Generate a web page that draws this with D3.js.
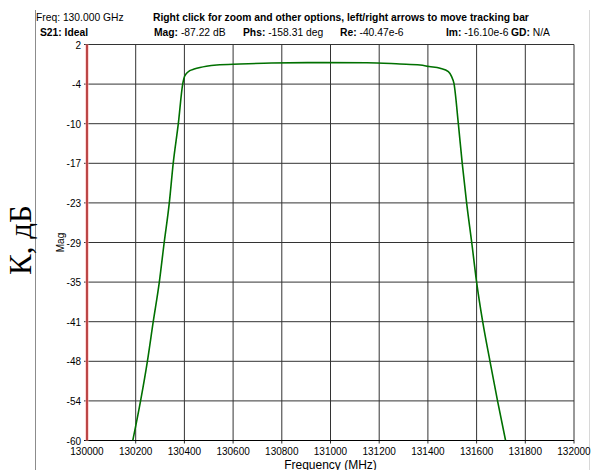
<!DOCTYPE html>
<meta charset="utf-8">
<style>
body { margin: 0; background: #fff; }
text { font-family: "Liberation Sans", Arial, sans-serif; fill: #000; }
.grid line { stroke: #333; stroke-width: 1px; }
.tick text { font-size: 10px; }
</style>
<svg width="591" height="470"></svg>
<script src="https://d3js.org/d3.v7.min.js"></script>
<script>

// frequency (MHz) and S21 magnitude (dB)
var freq = [130188, 130220, 130248, 130272, 130297, 130317, 130338, 130354, 130375, 130393,
            130398, 130407, 130422, 130440, 130464, 130490, 130533, 130628, 130758, 130957,
            131149, 131285, 131368, 131405, 131450, 131484, 131497, 131507, 131525, 131541,
            131559, 131580, 131600, 131625, 131655, 131686, 131719];
var mag  = [-60, -53.8, -47.6, -41.4, -35.2, -29, -22.8, -16.6, -10.4, -4.2,
            -3.3, -2.6, -2.1, -1.85, -1.6, -1.4, -1.2, -1.05, -0.9, -0.83,
            -0.85, -1.05, -1.2, -1.45, -1.73, -2.26, -3.0, -4.1, -10.4, -16.6,
            -22.8, -29, -35.2, -41.4, -47.6, -53.8, -60];

var xTicks = d3.range(130000, 132001, 200);
var yTicks = d3.range(0, 11).map(function(i) { return 2 - i * 6.2; });

var svg = d3.select("svg");
var pLeft = 87, pRight = 574, pTop = 44.5, pBottom = 440.5;

var x = d3.scaleLinear().domain([130000, 132000]).range([pLeft, pRight]);
var y = d3.scaleLinear().domain([-60, 2]).range([pBottom, pTop]);

// outer frame lines
svg.append("line").attr("x1", 35.5).attr("x2", 35.5).attr("y1", 10).attr("y2", 470)
    .attr("stroke", "#8c8c8c");
svg.append("line").attr("x1", 589.5).attr("x2", 589.5).attr("y1", 10).attr("y2", 470)
    .attr("stroke", "#d8d8d8");

// header
svg.append("text").attr("x", 36).attr("y", 21).style("font-size", "10.3px")
    .text("Freq: 130.000 GHz");
svg.append("text").attr("x", 153).attr("y", 21).style("font-size", "10.3px").style("font-weight", "bold")
    .text("Right click for zoom and other options, left/right arrows to move tracking bar");
svg.append("text").attr("x", 40).attr("y", 36).style("font-size", "10.3px").style("font-weight", "bold")
    .text("S21: Ideal");

var readout = [
  {k: "Mag:", v: " -87.22 dB", x: 154},
  {k: "Phs:", v: " -158.31 deg", x: 243},
  {k: "Re:", v: " -40.47e-6", x: 340},
  {k: "Im:", v: " -16.10e-6", x: 446},
  {k: "GD:", v: " N/A", x: 511}
];
readout.forEach(function(r) {
  var t = svg.append("text").attr("x", r.x).attr("y", 36).style("font-size", "10.3px");
  t.append("tspan").style("font-weight", "bold").text(r.k);
  t.append("tspan").text(r.v);
});

// grid
var grid = svg.append("g").attr("class", "grid");
grid.selectAll(".gx").data(xTicks.slice(1)).enter().append("line")
    .attr("x1", function(d) { return x(d); }).attr("x2", function(d) { return x(d); })
    .attr("y1", pTop).attr("y2", pBottom + 3);
grid.selectAll(".gy").data(yTicks.slice(0, -1)).enter().append("line")
    .attr("x1", pLeft - 3).attr("x2", pRight)
    .attr("y1", function(d) { return y(d); }).attr("y2", function(d) { return y(d); });
// bottom axis line
svg.append("line").attr("x1", pLeft - 3).attr("x2", pRight).attr("y1", pBottom).attr("y2", pBottom)
    .attr("stroke", "#000");

// tick labels
svg.append("g").attr("class", "tick").selectAll("text").data(xTicks).enter().append("text")
    .attr("x", function(d) { return x(d); }).attr("y", 455)
    .attr("text-anchor", "middle")
    .text(function(d) { return d; });
svg.append("g").attr("class", "tick").selectAll("text").data(yTicks).enter().append("text")
    .attr("x", 81).attr("y", function(d) { return y(d) + 4; })
    .attr("text-anchor", "end")
    .text(function(d) { return Math.round(d); });

// tracking bar (left, red)
svg.append("line").attr("x1", pLeft).attr("x2", pLeft).attr("y1", pTop).attr("y2", pBottom)
    .attr("stroke", "#ffb0b0").attr("stroke-width", 3);
svg.append("line").attr("x1", pLeft).attr("x2", pLeft).attr("y1", pTop).attr("y2", pBottom)
    .attr("stroke", "#900000").attr("stroke-width", 1.2);

// curve
svg.append("clipPath").attr("id", "clip").append("rect")
    .attr("x", pLeft).attr("y", pTop).attr("width", pRight - pLeft).attr("height", pBottom - pTop);
var line = d3.line()
    .x(function(d, i) { return x(freq[i]); })
    .y(function(d) { return y(d); })
    .curve(d3.curveMonotoneX);
svg.append("path").datum(mag)
    .attr("clip-path", "url(#clip)")
    .attr("fill", "none")
    .attr("stroke", "#007000")
    .attr("stroke-width", 1.6)
    .attr("d", line);

// axis titles
svg.append("text").attr("x", (pLeft + pRight) / 2).attr("y", 469)
    .attr("text-anchor", "middle").style("font-size", "12px")
    .text("Frequency (MHz)");
svg.append("text").attr("transform", "translate(64," + (pTop + pBottom) / 2 + ") rotate(-90)")
    .attr("text-anchor", "middle").style("font-size", "10px")
    .text("Mag");
svg.append("text").attr("transform", "translate(31,240) rotate(-90)")
    .attr("text-anchor", "middle")
    .style("font-family", "'Liberation Serif', 'Times New Roman', serif")
    .style("font-size", "31px")
    .text("К, дБ");

</script>
